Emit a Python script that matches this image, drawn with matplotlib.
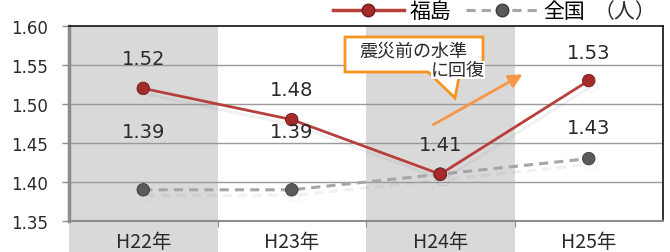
import matplotlib
matplotlib.use("Agg")
import matplotlib.pyplot as plt
import matplotlib.patheffects as pe
from matplotlib.patches import Rectangle, Polygon
from matplotlib.lines import Line2D
from matplotlib.transforms import blended_transform_factory

plt.rcParams['font.family'] = ['Noto Sans CJK JP', 'DejaVu Sans']

# --- data ---
years = ["H22年", "H23年", "H24年", "H25年"]
fukushima = [1.52, 1.48, 1.41, 1.53]
zenkoku = [1.39, 1.39, 1.41, 1.43]
# label offsets (pixels above the point)
fuku_label_dy = [30, 30, 0, 28]
zen_label_dy = [58, 58, 30, 31]
yticks = [1.35, 1.40, 1.45, 1.50, 1.55, 1.60]

RED = '#b8403c'
RED_MK = '#a52a2a'
GRAY = '#a6a6a6'
GRAY_MK = '#5a5a5a'
BAND = '#d9d9d9'
ORANGE = '#f7941d'
TXT = '#2a2a2a'

fig = plt.figure(figsize=(6.70, 2.53), dpi=100, facecolor='white')
ax = fig.add_axes([69 / 670, 1 - 222 / 253, 594 / 670, 195 / 253])

x = list(range(len(years)))
ax.set_xlim(-0.5, len(years) - 0.5)
ax.set_ylim(1.35, 1.60)

# shaded category bands (every other year), extending under the axis labels
trans = blended_transform_factory(ax.transData, ax.transAxes)
for i in x:
    if i % 2 == 0:
        ax.add_patch(Rectangle((i - 0.5, -0.17), 1.0, 1.17, transform=trans,
                               facecolor=BAND, edgecolor='none', zorder=0, clip_on=False))

for yv in yticks[1:-1]:
    ax.axhline(yv, color='#9a9a9a', lw=1.0, zorder=1)

shadow = [pe.SimpleLineShadow(offset=(2, -4), shadow_color='#777777', alpha=0.1), pe.Normal()]

ax.plot(x, zenkoku, color=GRAY, lw=2.2, ls=(0, (3, 2)), marker='o', ms=9,
        mfc=GRAY_MK, mec='#3a3a3a', mew=0.6, zorder=3, path_effects=shadow)
ax.plot(x, fukushima, color=RED, lw=2.0, marker='o', ms=9,
        mfc=RED_MK, mec='#6e1a1a', mew=0.6, zorder=4, path_effects=shadow)

for i, v in enumerate(fukushima):
    if fuku_label_dy[i]:
        ax.annotate(f"{v:.2f}", (i, v), xytext=(0, fuku_label_dy[i]), textcoords='offset pixels',
                    ha='center', va='center', fontsize=14, color=TXT, zorder=6,
                    family=['DejaVu Sans'])
for i, v in enumerate(zenkoku):
    ax.annotate(f"{v:.2f}", (i, v), xytext=(0, zen_label_dy[i]), textcoords='offset pixels',
                ha='center', va='center', fontsize=14, color=TXT, zorder=6,
                family=['DejaVu Sans'])

# axes styling
ax.set_yticks(yticks)
ax.set_yticklabels([f"{t:.2f}" for t in yticks], fontsize=12, color=TXT,
                   family='DejaVu Sans')
ax.tick_params(axis='y', length=5, color='#8c8c8c', width=1, pad=10)
ax.set_xticks([0.5, 1.5, 2.5])
ax.set_xticklabels([])
ax.tick_params(axis='x', length=4, color='#8c8c8c', direction='out')
for i, lab in enumerate(years):
    ax.text(i, -0.105, lab, transform=trans, ha='center', va='center',
            fontsize=14, color=TXT)

ax.spines['left'].set_color('#8c8c8c')
ax.spines['left'].set_linewidth(2.5)
ax.spines['bottom'].set_color('#8c8c8c')
ax.spines['bottom'].set_linewidth(1.5)
ax.spines['top'].set_color('#111111')
ax.spines['top'].set_linewidth(1.2)
ax.spines['right'].set_color('#111111')
ax.spines['right'].set_linewidth(1.2)

# callout box "震災前の水準に回復"
W, H = 670, 253
def fp(px, py):
    return (px / W, 1 - py / H)

callout = Polygon([fp(345, 38), fp(483, 38), fp(483, 73), fp(460, 73), fp(455, 99),
                   fp(428, 73), fp(345, 73)], closed=True, transform=fig.transFigure,
                  facecolor='white', edgecolor=ORANGE, lw=2, zorder=10)
fig.patches.append(callout)
fig.text(*fp(359, 51), "震災前の水準", ha='left', va='center', fontsize=13,
         color=TXT, zorder=11)
fig.text(*fp(485, 71), "に回復", ha='right', va='center', fontsize=13,
         color=TXT, zorder=11,
         bbox=dict(boxstyle='square,pad=0.0', facecolor='white', edgecolor='none'))

ax.annotate("", xy=fp(525, 74), xytext=fp(431, 127), xycoords='figure fraction',
            textcoords='figure fraction',
            arrowprops=dict(arrowstyle='-|>,head_length=0.8,head_width=0.4', color='#f79646', lw=2))

# legend
handles = [
    Line2D([], [], color=RED, lw=2.5, marker='o', ms=9, mfc=RED_MK, mec='#6e1a1a'),
    Line2D([], [], color=GRAY, lw=2.2, ls=(0, (3, 2)), marker='o', ms=9, mfc=GRAY_MK, mec='#3a3a3a'),
]
fig.legend(handles, ["福島", "全国"], loc='center right', bbox_to_anchor=(585 / W, 1 - 12 / H),
           ncol=2, frameon=False, fontsize=15, handlelength=3.4, handletextpad=0.3,
           columnspacing=0.7, borderpad=0, borderaxespad=0)
fig.text(*fp(656, 12), "（人）", ha='right', va='center', fontsize=15, color=TXT)

fig.savefig("out.png", dpi=100, facecolor='white')
